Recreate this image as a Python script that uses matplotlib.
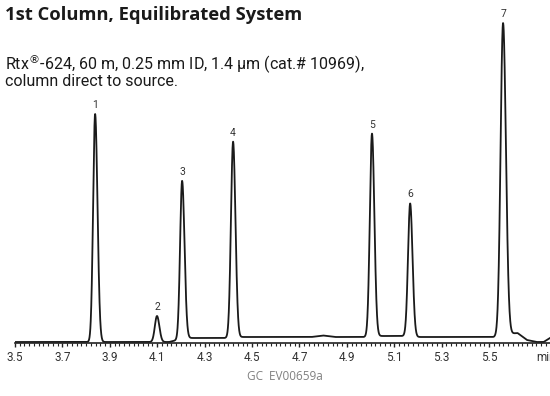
import matplotlib.pyplot as plt
import numpy as np
from matplotlib.ticker import MultipleLocator

# peak data
peak_ids = ['1', '2', '3', '4', '5', '6', '7']
peak_times = [3.838, 4.099, 4.205, 4.420, 5.006, 5.167, 5.559]
peak_heights = [228, 26, 158, 196, 203, 133, 312]
peak_sig_left = [0.0085, 0.009, 0.0085, 0.009, 0.009, 0.009, 0.0105]
peak_sig_right = [0.010, 0.010, 0.010, 0.010, 0.010, 0.010, 0.012]

# baseline level between peaks
base_t = [3.50, 3.80, 3.90, 4.15, 4.22, 4.40, 4.46, 4.75, 4.80, 4.85, 4.98, 5.04, 5.14, 5.20, 5.52, 5.58, 5.62, 5.66, 5.70, 5.73, 5.757]
base_v = [1, 1, 1, 1, 5, 5, 6, 6, 7.5, 6, 6, 7, 7, 6, 6, 9, 10, 3, 1, 1, 5]

ticks = [3.5, 3.7, 3.9, 4.1, 4.3, 4.5, 4.7, 4.9, 5.1, 5.3, 5.5]

narrow = ['Roboto', 'DejaVu Sans']
plt.rcParams['mathtext.fontset'] = 'dejavusans'

t = np.linspace(3.5, 5.757, 4000)
signal = np.interp(t, base_t, base_v)
for t0, h, sl, sr in zip(peak_times, peak_heights, peak_sig_left, peak_sig_right):
    sig = np.where(t < t0, sl, sr)
    signal = signal + h * np.exp(-0.5 * ((t - t0) / sig) ** 2)

fig = plt.figure(figsize=(5.5, 3.96), dpi=100)
ax = fig.add_axes([15 / 550, 1 - 343 / 396, 535 / 550, 333 / 396])

ax.plot(t, signal, color='#1a1a1a', lw=1.3)
for pid, t0, h, b in zip(peak_ids, peak_times, peak_heights, np.interp(peak_times, base_t, base_v)):
    ax.text(t0, h + b + 4, pid, ha='center', va='bottom', fontsize=7.5,
            family=narrow, color='#333333')

ax.set_xlim(3.5, 5.757)
ax.set_ylim(0, 333)
for s in ['top', 'right', 'left']:
    ax.spines[s].set_visible(False)
ax.spines['bottom'].set_linewidth(1.2)
ax.spines['bottom'].set_color('#222222')
ax.set_yticks([])
ax.set_xticks(ticks)
ax.set_xticklabels([f'{v:.1f}' for v in ticks], family=narrow,
                   fontsize=8.5, color='#333333')
ax.xaxis.set_minor_locator(MultipleLocator(0.02))
ax.tick_params(axis='x', which='major', length=3, width=1, color='#222222', pad=3)
ax.tick_params(axis='x', which='minor', length=2, width=0.8, color='#222222')
ax.text(5.742, -14.5, 'min', ha='center', va='center', fontsize=8.5,
        family=narrow, color='#333333', clip_on=False)

fig.text(5 / 550, 1 - 15 / 396, '1st Column, Equilibrated System', fontsize=13.2, fontweight='bold',
         family=['Open Sans', 'DejaVu Sans'], va='center', ha='left', color='#1a1a1a')
fig.text(5 / 550, 1 - 71 / 396, 'Rtx$^{\u00ae}$-624, 60 m, 0.25 mm ID, 1.4 \u00b5m (cat.# 10969),\ncolumn direct to source.',
         fontsize=11.5, family=narrow, va='center', ha='left',
         color='#1a1a1a', linespacing=0.82)
fig.text(285 / 550, 1 - 377 / 396, 'GC  EV00659a', fontsize=8.5, family=['Open Sans', 'DejaVu Sans'],
         ha='center', va='center', color='#808080')

fig.savefig('out.png', dpi=100)
